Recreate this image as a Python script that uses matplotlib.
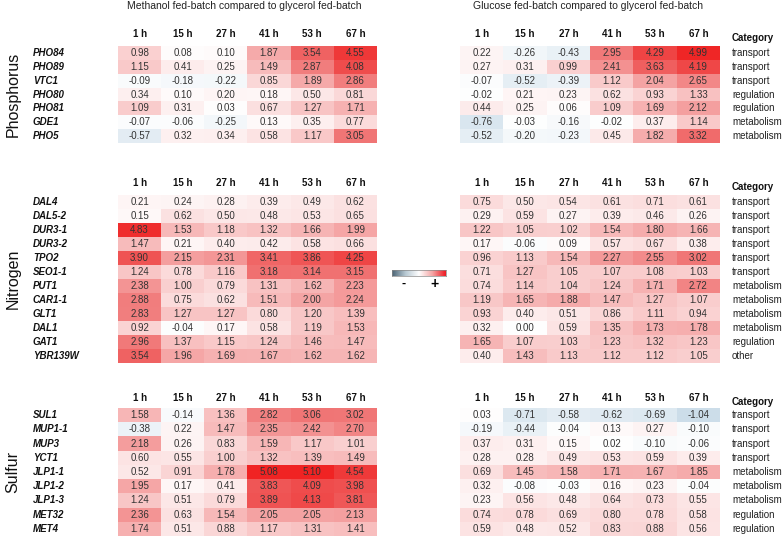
import numpy as np
import matplotlib
matplotlib.use("Agg")
import matplotlib.pyplot as plt
from matplotlib.colors import LinearSegmentedColormap, Normalize

plt.rcParams['font.family'] = ['Liberation Sans', 'DejaVu Sans']

# ---- data ----
hours = ['1 h', '15 h', '27 h', '41 h', '53 h', '67 h']

p_genes = ['PHO84', 'PHO89', 'VTC1', 'PHO80', 'PHO81', 'GDE1', 'PHO5']
p_meth = [[0.98, 0.08, 0.10, 1.87, 3.54, 4.55],
          [1.15, 0.41, 0.25, 1.49, 2.87, 4.08],
          [-0.09, -0.18, -0.22, 0.85, 1.89, 2.86],
          [0.34, 0.10, 0.20, 0.18, 0.50, 0.81],
          [1.09, 0.31, 0.03, 0.67, 1.27, 1.71],
          [-0.07, -0.06, -0.25, 0.13, 0.35, 0.77],
          [-0.57, 0.32, 0.34, 0.58, 1.17, 3.05]]
p_gluc = [[0.22, -0.26, -0.43, 2.95, 4.29, 4.99],
          [0.27, 0.31, 0.99, 2.41, 3.63, 4.19],
          [-0.07, -0.52, -0.39, 1.12, 2.04, 2.65],
          [-0.02, 0.21, 0.23, 0.62, 0.93, 1.33],
          [0.44, 0.25, 0.06, 1.09, 1.69, 2.12],
          [-0.76, -0.03, -0.16, -0.02, 0.37, 1.14],
          [-0.52, -0.20, -0.23, 0.45, 1.82, 3.32]]
p_cat = ['transport', 'transport', 'transport', 'regulation', 'regulation',
         'metabolism', 'metabolism']

n_genes = ['DAL4', 'DAL5-2', 'DUR3-1', 'DUR3-2', 'TPO2', 'SEO1-1', 'PUT1',
           'CAR1-1', 'GLT1', 'DAL1', 'GAT1', 'YBR139W']
n_meth = [[0.21, 0.24, 0.28, 0.39, 0.49, 0.62],
          [0.15, 0.62, 0.50, 0.48, 0.53, 0.65],
          [4.83, 1.53, 1.18, 1.32, 1.66, 1.99],
          [1.47, 0.21, 0.40, 0.42, 0.58, 0.66],
          [3.90, 2.15, 2.31, 3.41, 3.86, 4.25],
          [1.24, 0.78, 1.16, 3.18, 3.14, 3.15],
          [2.38, 1.00, 0.79, 1.31, 1.62, 2.23],
          [2.88, 0.75, 0.62, 1.51, 2.00, 2.24],
          [2.83, 1.27, 1.27, 0.80, 1.20, 1.39],
          [0.92, -0.04, 0.17, 0.58, 1.19, 1.53],
          [2.96, 1.37, 1.15, 1.24, 1.46, 1.47],
          [3.54, 1.96, 1.69, 1.67, 1.62, 1.62]]
n_gluc = [[0.75, 0.50, 0.54, 0.61, 0.71, 0.61],
          [0.29, 0.59, 0.27, 0.39, 0.46, 0.26],
          [1.22, 1.05, 1.02, 1.54, 1.80, 1.66],
          [0.17, -0.06, 0.09, 0.57, 0.67, 0.38],
          [0.96, 1.13, 1.54, 2.27, 2.55, 3.02],
          [0.71, 1.27, 1.05, 1.07, 1.08, 1.03],
          [0.74, 1.14, 1.04, 1.24, 1.71, 2.72],
          [1.19, 1.65, 1.88, 1.47, 1.27, 1.07],
          [0.93, 0.40, 0.51, 0.86, 1.11, 0.94],
          [0.32, 0.00, 0.59, 1.35, 1.73, 1.78],
          [1.65, 1.07, 1.03, 1.23, 1.32, 1.23],
          [0.40, 1.43, 1.13, 1.12, 1.12, 1.05]]
n_cat = ['transport'] * 6 + ['metabolism'] * 4 + ['regulation', 'other']

s_genes = ['SUL1', 'MUP1-1', 'MUP3', 'YCT1', 'JLP1-1', 'JLP1-2', 'JLP1-3',
           'MET32', 'MET4']
s_meth = [[1.58, -0.14, 1.36, 2.82, 3.06, 3.02],
          [-0.38, 0.22, 1.47, 2.35, 2.42, 2.70],
          [2.18, 0.26, 0.83, 1.59, 1.17, 1.01],
          [0.60, 0.55, 1.00, 1.32, 1.39, 1.49],
          [0.52, 0.91, 1.78, 5.08, 5.10, 4.54],
          [1.95, 0.17, 0.41, 3.83, 4.09, 3.98],
          [1.24, 0.51, 0.79, 3.89, 4.13, 3.81],
          [2.36, 0.63, 1.54, 2.05, 2.05, 2.13],
          [1.74, 0.51, 0.88, 1.17, 1.31, 1.41]]
s_gluc = [[0.03, -0.71, -0.58, -0.62, -0.69, -1.04],
          [-0.19, -0.44, -0.04, 0.13, 0.27, -0.10],
          [0.37, 0.31, 0.15, 0.02, -0.10, -0.06],
          [0.28, 0.28, 0.49, 0.53, 0.59, 0.39],
          [0.69, 1.45, 1.58, 1.71, 1.67, 1.85],
          [0.32, -0.08, -0.03, 0.16, 0.23, -0.04],
          [0.23, 0.56, 0.48, 0.64, 0.73, 0.55],
          [0.74, 0.78, 0.69, 0.80, 0.78, 0.58],
          [0.59, 0.48, 0.52, 0.83, 0.88, 0.56]]
s_cat = ['transport'] * 4 + ['metabolism'] * 3 + ['regulation'] * 2

# ---- colours ----
vmin, vmax = -2.0, 5.1
nodes = [(-2.0, (160, 190, 212)), (-1.04, (205, 222, 234)), (0.0, (255, 255, 255)),
         (1.0, (250, 208, 208)), (2.0, (245, 165, 165)), (3.0, (241, 120, 120)),
         (4.0, (239, 80, 80)), (5.1, (240, 35, 35))]
cmap = LinearSegmentedColormap.from_list(
    'heat', [((v - vmin) / (vmax - vmin), tuple(c / 255 for c in rgb)) for v, rgb in nodes])
norm = Normalize(vmin, vmax)

W, H = 784, 537
fig = plt.figure(figsize=(W / 100, H / 100), dpi=100)
ov = fig.add_axes([0, 0, 1, 1])
ov.set_xlim(0, W)
ov.set_ylim(H, 0)
ov.axis('off')


def px(x0, y0, w, h):
    return [x0 / W, 1 - (y0 + h) / H, w / W, h / H]


def heat(x0, y0, x1, y1, vals):
    a = np.array(vals)
    ax = fig.add_axes(px(x0, y0, x1 - x0, y1 - y0))
    ax.imshow(a, cmap=cmap, norm=norm, aspect='auto', interpolation='nearest')
    ax.axis('off')
    for i in range(a.shape[0]):
        for j in range(a.shape[1]):
            ax.text(j, i, f"{a[i, j]:.2f}", ha='center', va='center',
                    fontsize=7, color='#333333')
    return ax


left = (118, 377)
right = (460, 720)
blocks = [
    ('Phosphorus', p_genes, p_meth, p_gluc, p_cat, 46, 143, 34),
    ('Nitrogen', n_genes, n_meth, n_gluc, n_cat, 195, 363, 183),
    ('Sulfur', s_genes, s_meth, s_gluc, s_cat, 408, 536, 398),
]

for name, genes, meth, gluc, cat, y0, y1, yh in blocks:
    heat(left[0], y0, left[1], y1, meth)
    heat(right[0], y0, right[1], y1, gluc)
    n = len(genes)
    rh = (y1 - y0) / n
    for xs in (left, right):
        cw = (xs[1] - xs[0]) / 6
        for j, h in enumerate(hours):
            ov.text(xs[0] + cw * (j + 0.5), yh, h, ha='center', va='center',
                    fontsize=7, fontweight='bold', color='#111111')
    ov.text(732, yh + 4, 'Category', ha='left', va='center', fontsize=7,
            fontweight='bold', color='#111111')
    for i, g in enumerate(genes):
        yc = y0 + rh * (i + 0.5)
        ov.text(33, yc, g, ha='left', va='center', fontsize=7,
                fontweight='bold', fontstyle='italic', color='#111111')
        ov.text(732, yc, cat[i], ha='left', va='center', fontsize=7,
                color='#222222')
    ov.text(13, (y0 + y1) / 2, name, rotation=90, ha='center', va='center',
            fontsize=11.5, color='#111111')

ov.text(244, 6, 'Methanol fed-batch compared to glycerol fed-batch',
        ha='center', va='center', fontsize=7.5, color='#222222')
ov.text(588, 6, 'Glucose fed-batch compared to glycerol fed-batch',
        ha='center', va='center', fontsize=7.5, color='#222222')

# colour key
bar_cmap = LinearSegmentedColormap.from_list(
    'bar', ['#4c6575', '#b8c9d3', '#ffffff', '#f4a6a6', '#ee1c24'])
cax = fig.add_axes(px(392, 270, 54, 6))
cax.imshow(np.linspace(0, 1, 100)[None, :], cmap=bar_cmap, aspect='auto')
cax.set_xticks([])
cax.set_yticks([])
for s in cax.spines.values():
    s.set_color('#888888')
    s.set_linewidth(0.5)
ov.text(404, 284, '-', ha='center', va='center', fontsize=9, fontweight='bold')
ov.text(435, 284, '+', ha='center', va='center', fontsize=10, fontweight='bold')

fig.savefig('out.png', dpi=100)
